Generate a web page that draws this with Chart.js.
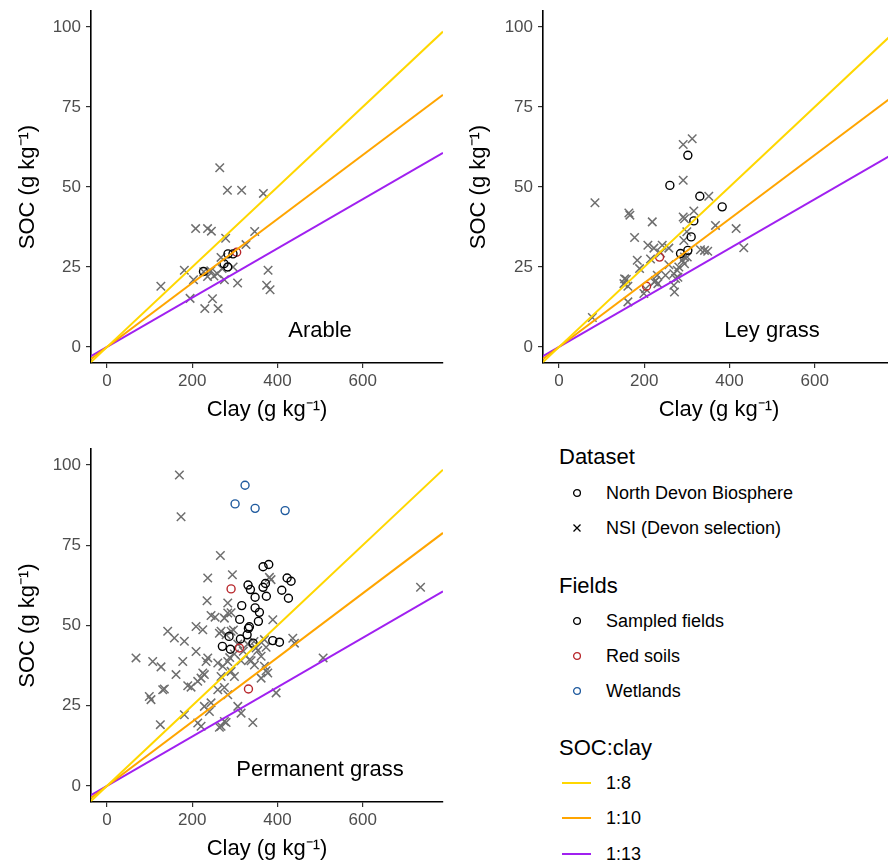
<!DOCTYPE html>
<html lang="en">
<head>
<meta charset="UTF-8">
<title>SOC vs clay</title>
<script src="https://cdn.jsdelivr.net/npm/chart.js"></script>
<style>
  html, body { margin: 0; padding: 0; background: #fff; }
  body { width: 888px; height: 862px; overflow: hidden; position: relative;
         font-family: "Liberation Sans", Arial, sans-serif; }
  canvas { position: absolute; }
  .lg { position: absolute; line-height: 1; transform: translateY(-50%); white-space: nowrap; color: #000; }
  .lg-title { font-size: 22px; }
  .lg-item { font-size: 18px; }
  svg.key { position: absolute; overflow: visible; }
</style>
</head>
<body>
<canvas id="arable" width="444" height="431" style="left:0;top:0"></canvas>
<canvas id="ley" width="452" height="431" style="left:444px;top:0"></canvas>
<canvas id="perm" width="444" height="431" style="left:0;top:431px"></canvas>
<div id="legend"></div>

<script>
// ---- data: [clay, SOC] in g/kg ----
const arableNSI = [[264.6,56],[282.6,49],[316,49],[367,48],[208,37],[236,37],[245,36.2],[278.5,34],
  [346.6,36.1],[326.2,32],[181.5,24],[126.4,19],[203,21],[195,15.2],[229.5,12],[260.7,12],[247.5,15.1],
  [243.5,23.8],[251,22.2],[259,22.9],[275.5,21],[306.5,20],[267.6,28],[296,25],[378,24],[374.7,19.3],
  [382.7,17.9],[227,23.5],[236,22],[270,24.5]];
const arableSampled = [[226.4,23.6],[274.7,26],[283.3,25],[284,29.1],[295.7,29.1]];
const arableRed = [[304.3,29.6]];
const arableWet = [];

const leyNSI = [[312.6,65.1],[291.5,63.3],[291.5,52.1],[84.4,45.1],[164,41.9],[166.4,41.2],[218.9,39.1],
  [351.5,47.1],[291.5,40.6],[294.6,40.1],[316.4,42.5],[367.2,38],[415.7,37],[433.6,31],[177.4,34.2],
  [208.6,31.8],[222.7,30.9],[242.3,31.8],[257.8,30.9],[293,33.3],[332,30.4],[341.5,30.2],[349,29.9],
  [183.7,27.1],[189.1,24.5],[158,21.1],[152.4,19.8],[161.7,19],[161.7,14.1],[78.3,9.2],[199.2,16.7],
  [203.2,18.2],[226.6,20.8],[230.6,22.4],[250,22.4],[269.5,22.9],[273.5,21.4],[277.5,24],[269.5,19.3],
  [271,17.2],[281.2,25],[289.2,27.1],[301,28.1],[238.4,29.4],[257.8,25.7],[214.8,27.5],[154,21.3],
  [224,20.3],[232,19.8],[279,21.8],[294.5,28.1],[294.5,26],[300,36]];
const leySampled = [[302.4,59.9],[260.2,50.5],[330.5,47.1],[383,43.8],[316.4,39.4],[310.2,34.4],
  [302.4,30.2],[285.2,29.2]];
const leyRed = [[236,28.1],[205.5,19]];
const leyWet = [];

const permNSI = [[169.9,96.9],[173.8,83.9],[266.1,71.8],[294.3,65.8],[236.4,64.8],[234.8,57.7],[283.4,57],
  [244.2,53.1],[253.6,52.6],[275.5,52.3],[283.4,53.9],[209,49.7],[224.8,48.7],[142.5,48.2],[158.1,46.1],
  [181.6,45.1],[267.7,48.2],[279.5,47.1],[291.2,48.2],[68.1,39.9],[107.3,38.8],[126.8,37.1],[162,34.7],
  [177.8,38.8],[209,41.9],[236.5,39.9],[232.5,38.8],[224.8,35.2],[228.5,34.7],[220.7,33.6],[189.5,31.2],
  [197.3,30.8],[130.8,30],[134.6,30.2],[99.3,27.9],[103.3,26.9],[260,38.3],[271.7,37.3],[283.4,38.8],
  [291.2,35.7],[299,34.1],[267.7,34.1],[260,30],[283.4,28.4],[334.2,39.3],[346,37.7],[361.7,40.4],
  [369.4,37.3],[349.9,43],[369.4,45.6],[389.1,51.8],[377.3,35.2],[361.7,33.6],[396.9,29],[439.9,44.5],
  [436,46],[228.5,24.8],[244.2,25.9],[240.3,23.2],[181.6,22.2],[125.2,19.1],[213,19.6],[220.8,18.6],
  [275.5,20.1],[267.7,18.6],[307,24.8],[314.7,22.7],[342.2,19.8],[507.2,39.9],[735.8,61.9],[381.2,65],
  [385,64.3],[263.8,18.3],[279.5,19.8],[263.8,47.6],[296.7,48.6],[306.9,44.2],[330.3,44.2],[338.2,39],
  [353.9,42.2],[373.4,43.2],[373.4,35.9],[275.5,30.7],[212.9,32.6],[314.7,39],[299,41.1],[288,40],
  [320,42],[345,45],[291.2,54]];
const permSampled = [[366.3,68.3],[379.6,69],[371.8,63.1],[366.3,61.9],[331,62.6],[336.6,61.2],[347.6,58.8],
  [374,59.1],[422.7,64.8],[432,63.8],[410.2,61],[425.8,58.5],[316.2,56.2],[347.6,55.5],[357.7,54.1],
  [355.3,51.3],[311.5,51.9],[334.2,49.6],[331.9,49.1],[328.8,47.1],[286.5,46.6],[270.8,43.5],[289.6,42.6],
  [313.1,45.8],[342.8,44.5],[389,45.3],[404.7,44.8]];
const permRed = [[291.2,61.4],[310.8,43],[332,30.2]];
const permWet = [[300.6,87.9],[324,93.7],[347.6,86.5],[418,85.8]];

const ratios = [8, 10, 13];
const ratioLabels = ['1:8', '1:10', '1:13'];
const clayRange = [-37.5, 788.5];
const socRange = [-5, 105];
const clayTicks = [0, 200, 400, 600];
const socTicks = [0, 25, 50, 75, 100];
const labelAt = [500, 5];

const FONT = '"Liberation Sans", Arial, sans-serif';
const lineColors = ['#FFD700', '#FFA500', '#A020F0'];
const crossColor = '#6E6E6E';
const sampledColor = '#000000';
const redColor = '#B8262B';
const wetColor = '#1F5A9E';

const toXY = arr => arr.map(p => ({x: p[0], y: p[1]}));

const panelLabel = {
  id: 'panelLabel',
  afterDatasetsDraw(chart, args, opts) {
    const {ctx, scales: {x, y}} = chart;
    ctx.save();
    ctx.font = '22px ' + FONT;
    ctx.fillStyle = '#000';
    ctx.textAlign = 'center';
    ctx.textBaseline = 'middle';
    ctx.fillText(opts.text, x.getPixelForValue(labelAt[0]), y.getPixelForValue(labelAt[1]));
    ctx.restore();
  }
};

function makePanel(id, name, nsi, sampled, red, wet, box) {
  const datasets = [];
  ratios.forEach((r, i) => {
    datasets.push({
      type: 'line', label: ratioLabels[i],
      data: clayRange.map(c => ({x: c, y: c / r})),
      borderColor: lineColors[i], borderWidth: 2, pointRadius: 0, fill: false
    });
  });
  [[sampled, sampledColor], [red, redColor], [wet, wetColor]].forEach(([d, col]) => {
    datasets.push({
      data: toXY(d), pointStyle: 'circle', pointRadius: 4, borderWidth: 1.4,
      borderColor: col, backgroundColor: 'rgba(0,0,0,0)'
    });
  });
  datasets.push({
    data: toXY(nsi), pointStyle: 'crossRot', pointRadius: 6, borderWidth: 1.5,
    borderColor: crossColor, backgroundColor: crossColor
  });

  const tickFont = {family: FONT, size: 17};
  const titleFont = {family: FONT, size: 22};
  new Chart(document.getElementById(id), {
    type: 'scatter',
    data: {datasets},
    plugins: [panelLabel],
    options: {
      responsive: false, animation: false, devicePixelRatio: 1,
      layout: {autoPadding: false, padding: {top: box.top, right: box.right, left: 0, bottom: 0}},
      plugins: {legend: {display: false}, tooltip: {enabled: false}, panelLabel: {text: name}},
      scales: {
        x: {
          type: 'linear', min: clayRange[0], max: clayRange[1],
          afterBuildTicks: s => { s.ticks = clayTicks.map(v => ({value: v})); },
          afterFit: s => { s.height = box.xh; s.paddingLeft = 0; s.paddingRight = 0; },
          ticks: {color: '#4D4D4D', font: tickFont, padding: 3, maxRotation: 0},
          grid: {drawOnChartArea: false, drawTicks: true, tickLength: 5, color: '#333', lineWidth: 1.2},
          border: {display: true, color: '#000', width: 1.6},
          title: {display: true, text: 'Clay (g kg\u207B\u00B9)', color: '#000', font: titleFont,
                  padding: {top: 0, bottom: box.xtp}}
        },
        y: {
          type: 'linear', min: socRange[0], max: socRange[1],
          afterBuildTicks: s => { s.ticks = socTicks.map(v => ({value: v})); },
          afterFit: s => { s.width = box.yw; s.paddingTop = 0; s.paddingBottom = 0; },
          ticks: {color: '#4D4D4D', font: tickFont, padding: 5},
          grid: {drawOnChartArea: false, drawTicks: true, tickLength: 5, color: '#333', lineWidth: 1.2},
          border: {display: true, color: '#000', width: 1.6},
          title: {display: true, text: 'SOC (g kg\u207B\u00B9)', color: '#000', font: titleFont,
                  padding: {top: box.ytp, bottom: 0}}
        }
      }
    }
  });
}

makePanel('arable', 'Arable', arableNSI, arableSampled, arableRed, arableWet,
  {top: 11, right: 1, xh: 68, yw: 91, xtp: 8, ytp: 15});
makePanel('ley', 'Ley grass', leyNSI, leySampled, leyRed, leyWet,
  {top: 11, right: 1, xh: 68, yw: 99, xtp: 8, ytp: 22});
makePanel('perm', 'Permanent grass', permNSI, permSampled, permRed, permWet,
  {top: 18, right: 1, xh: 60, yw: 91, xtp: 0, ytp: 15});

// ---- legend (HTML) ----
const legendGroups = [
  {title: 'Dataset', y: 457, items: [
    {text: 'North Devon Biosphere', key: 'circle', color: sampledColor, y: 493},
    {text: 'NSI (Devon selection)', key: 'cross', color: '#000', y: 528}]},
  {title: 'Fields', y: 586, items: [
    {text: 'Sampled fields', key: 'circle', color: sampledColor, y: 621},
    {text: 'Red soils', key: 'circle', color: redColor, y: 656},
    {text: 'Wetlands', key: 'circle', color: wetColor, y: 691}]},
  {title: 'SOC:clay', y: 748, items: ratioLabels.map((t, i) => (
    {text: t, key: 'line', color: lineColors[i], y: 783 + i * 35.3}))}
];

const leg = document.getElementById('legend');
legendGroups.forEach(g => {
  const t = document.createElement('div');
  t.className = 'lg lg-title';
  t.style.left = '559px'; t.style.top = g.y + 'px';
  t.textContent = g.title;
  leg.appendChild(t);
  g.items.forEach(it => {
    const d = document.createElement('div');
    d.className = 'lg lg-item';
    d.style.left = '606px'; d.style.top = it.y + 'px';
    d.textContent = it.text;
    leg.appendChild(d);
    let svg;
    if (it.key === 'circle') {
      svg = `<svg class="key" width="10" height="10" style="left:572px;top:${it.y - 5}px">
        <circle cx="5" cy="5" r="3.4" fill="none" stroke="${it.color}" stroke-width="1.3"/></svg>`;
    } else if (it.key === 'cross') {
      svg = `<svg class="key" width="10" height="10" style="left:572px;top:${it.y - 5}px">
        <path d="M1.5 1.5 L8.5 8.5 M8.5 1.5 L1.5 8.5" stroke="${it.color}" stroke-width="1.3"/></svg>`;
    } else {
      svg = `<svg class="key" width="30" height="4" style="left:562px;top:${it.y - 2}px">
        <line x1="0" y1="2" x2="29" y2="2" stroke="${it.color}" stroke-width="2"/></svg>`;
    }
    leg.insertAdjacentHTML('beforeend', svg);
  });
});
</script>
</body>
</html>
